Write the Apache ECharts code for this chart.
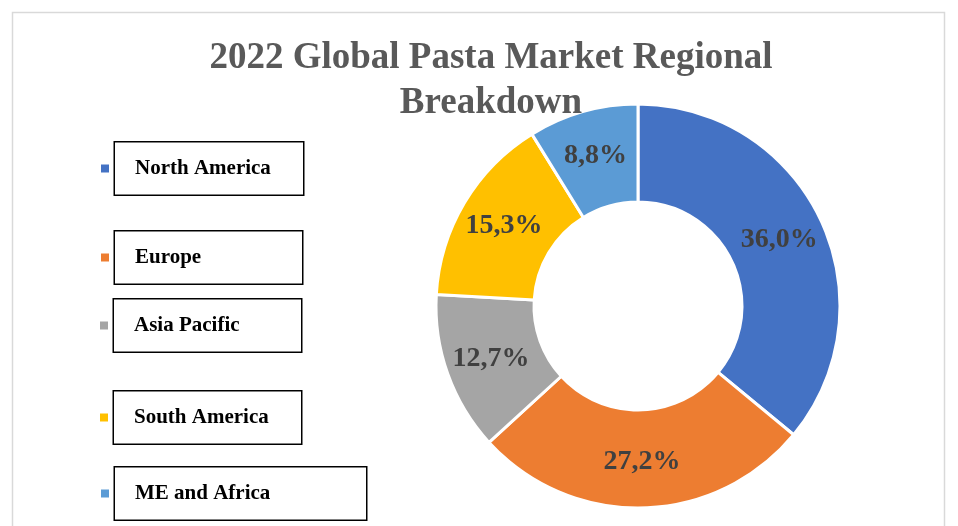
<!DOCTYPE html>
<html>
<head>
<meta charset="utf-8">
<script src="https://cdn.jsdelivr.net/npm/echarts@6/dist/echarts.min.js"></script>
<style>
html,body{margin:0;padding:0;background:#fff;}
#chart{width:958px;height:526px;}
</style>
</head>
<body>
<div id="chart"></div>
<script>
const titleText = '2022 Global Pasta Market Regional\nBreakdown';
const regions = ['North America', 'Europe', 'Asia Pacific', 'South America', 'ME and Africa'];
const shares = [36.0, 27.2, 12.7, 15.3, 8.8];
const colors = ['#4472C4', '#ED7D31', '#A5A5A5', '#FFC000', '#5B9BD5'];

// legend box layout (presentation only)
const legendLayout = [
  {left: 99, top: 141, boxW: 190},
  {left: 99, top: 230, boxW: 189},
  {left: 98, top: 298, boxW: 189},
  {left: 98, top: 390, boxW: 189},
  {left: 99, top: 466, boxW: 253}
];

const serif = '"Liberation Serif", "Times New Roman", serif';

const legends = regions.map((name, i) => ({
  data: [name],
  left: legendLayout[i].left,
  top: legendLayout[i].top,
  padding: 0,
  itemWidth: 10,
  itemHeight: 10,
  icon: 'rect',
  selectedMode: false,
  textStyle: {
    fontFamily: serif,
    fontWeight: 'bold',
    fontSize: 21,
    color: '#000',
    width: legendLayout[i].boxW - 22,
    lineHeight: 48,
    padding: [0, 0, 4, 20],
    borderColor: '#000',
    borderWidth: 1.5,
    backgroundColor: '#fff'
  }
}));

const chart = echarts.init(document.getElementById('chart'));
chart.setOption({
  animation: false,
  color: colors,
  graphic: [{
    type: 'rect',
    shape: {x: 12.5, y: 12.5, width: 932, height: 540},
    style: {fill: 'none', stroke: '#d9d9d9', lineWidth: 1.5},
    silent: true,
    z: -1
  }],
  title: {
    text: titleText,
    left: 486,
    top: 31,
    textAlign: 'center',
    textStyle: {
      fontFamily: serif,
      fontWeight: 'bold',
      fontSize: 37,
      lineHeight: 45,
      color: '#595959'
    }
  },
  legend: legends,
  series: [{
    type: 'pie',
    center: [638, 306],
    radius: [104, 202],
    startAngle: 90,
    clockwise: true,
    avoidLabelOverlap: false,
    itemStyle: {borderColor: '#fff', borderWidth: 3},
    label: {
      show: true,
      position: 'inside',
      fontFamily: serif,
      fontWeight: 'bold',
      fontSize: 28,
      color: '#404040',
      formatter: p => p.value.toFixed(1).replace('.', ',') + '%'
    },
    labelLine: {show: false},
    emphasis: {disabled: true},
    data: regions.map((name, i) => ({name: name, value: shares[i]}))
  }]
});
</script>
</body>
</html>
